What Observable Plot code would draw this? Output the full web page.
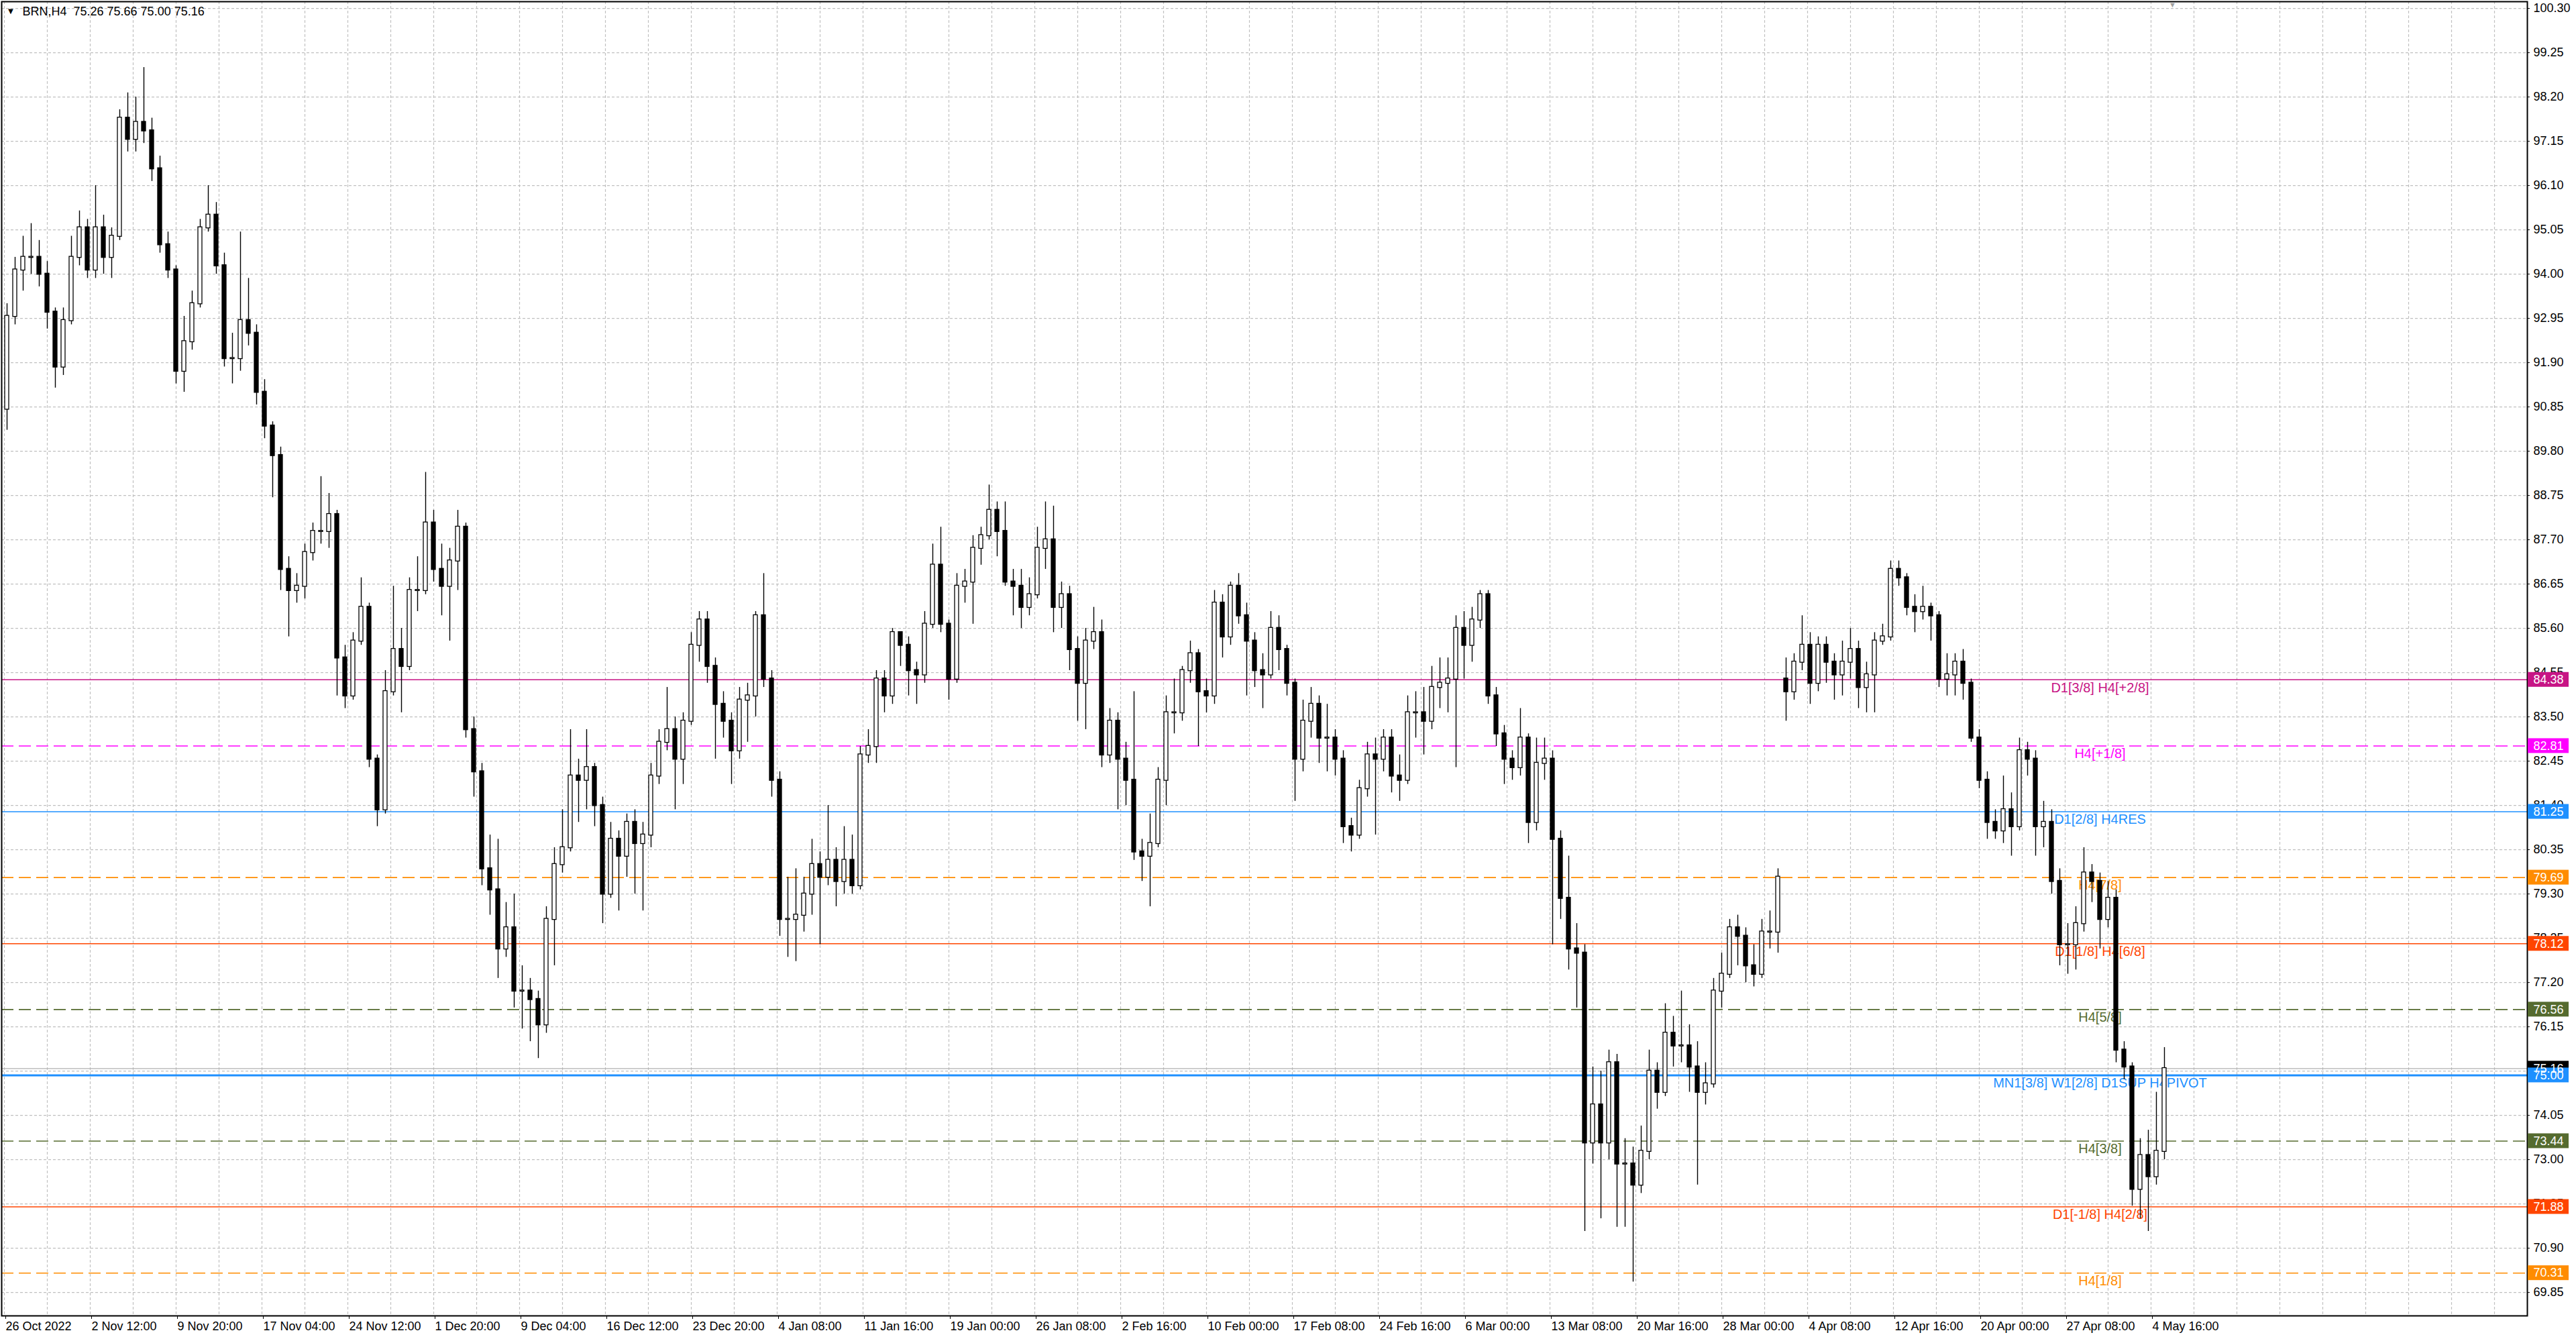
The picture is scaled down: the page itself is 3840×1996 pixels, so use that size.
<!DOCTYPE html>
<html>
<head>
<meta charset="utf-8">
<script src="https://cdn.jsdelivr.net/npm/d3@7"></script>
<script src="https://cdn.jsdelivr.net/npm/@observablehq/plot@0.6"></script>
<style>
  body { margin: 0; background: #fff; overflow: hidden; }
  #chart { width: 3840px; height: 1996px; }
</style>
</head>
<body>
<div id="chart"></div>
<script>
// BRN H4 candles, grouped 3 bars per candle (bar index = 3*i + 1)
const firstOpen = 90.8
const gapAt = [221]        // weekend gap (OPEC cut)
const gapOpen = [84.4]

const closes = [
  93.0, 94.1, 94.4, 94.4, 94.0, 93.1, 91.8, 92.9, 94.4, 95.1,
  94.1, 95.1, 94.4, 94.9, 97.7, 97.2, 97.6, 97.4, 96.5, 94.7,
  94.1, 91.7, 92.4, 93.3, 95.1, 95.4, 94.2, 92.0, 92.0, 92.9,
  92.6, 91.2, 90.4, 89.7, 87.0, 86.5, 86.6, 87.4, 87.9, 87.9,
  88.3, 84.9, 84.0, 85.3, 86.1, 82.5, 81.3, 84.1, 85.1, 84.7,
  86.5, 86.5, 88.1, 87.0, 86.6, 87.2, 88.0, 83.2, 82.2, 79.9,
  79.4, 78.0, 78.5, 77.0, 77.0, 76.8, 76.2, 78.7,
  80.0, 80.4, 82.1, 82.0, 82.3, 81.4, 79.3, 80.6, 80.2, 81.0,
  80.5, 80.7, 82.1, 82.9, 83.2, 82.5, 83.4, 85.2, 85.8, 84.7,
  83.8, 83.4, 82.7, 83.9, 84.0, 85.9, 84.4, 82.0, 78.7, 78.7,
  78.8, 79.3, 80.0, 79.7, 80.1, 79.6, 80.1, 79.5, 82.6, 82.8,
  84.4, 84.0, 85.5, 85.2, 84.6, 84.5, 85.7, 87.1, 85.7, 84.4,
  86.6, 86.7, 87.5, 87.8, 88.4, 87.9, 86.7, 86.6, 86.1, 86.4,
  87.5, 87.7, 86.1, 86.4, 85.1, 84.3,
  85.3, 85.5, 82.6, 83.4, 82.5, 82.0, 80.3, 80.2, 80.5, 82.0,
  83.6, 83.6, 84.6, 85.0, 84.1, 84.0, 86.2, 85.4, 86.6, 85.9,
  85.3, 84.6, 84.5, 85.6, 85.1, 84.3, 82.5, 83.4, 83.8, 83.0,
  83.0, 82.5, 80.9, 80.7, 81.8, 82.6, 82.5, 83.0, 82.1, 82.0,
  83.6, 83.6, 83.4, 84.2, 84.3, 84.4, 85.6, 85.2, 85.8, 86.4,
  84.0, 83.1, 82.5, 82.3, 83.0, 81.0, 82.4, 82.5, 80.6, 79.2,
  78.0, 77.9, 73.4, 74.3, 73.4, 75.3, 72.9,
  72.9, 72.4, 73.2, 75.1, 74.6, 76.0, 75.7, 75.7, 75.2, 74.6,
  74.8, 77.0, 77.4, 78.5, 78.3, 77.6, 77.4, 78.4, 78.4, 79.7,
  84.1, 84.8, 85.2, 84.3, 85.2, 84.8, 84.5, 84.8, 85.1, 84.2,
  84.5, 85.3, 85.4, 87.0, 86.8, 86.1, 86.0, 86.1, 85.9, 84.4,
  84.5, 84.8, 84.3, 83.0, 82.0, 81.0, 80.8, 81.3, 80.9, 82.7,
  82.5, 80.9, 81.0, 79.6, 78.1, 78.1, 78.6, 79.8, 79.6, 78.7,
  79.2, 75.6, 75.2, 72.3, 73.1, 72.6, 73.2, 75.16
]

const highs = [
  93.3, 94.4, 94.9, 95.2, 94.8, 94.3, 93.2, 93.2, 94.9, 95.5,
  95.3, 96.1, 95.4, 95.1, 97.9, 98.3, 98.2, 98.9, 97.7, 96.8,
  95.0, 94.2, 93.0, 93.6, 95.3, 96.1, 95.7, 94.5, 92.6, 95.0,
  93.9, 92.8, 91.5, 90.5, 89.9, 87.3, 86.9, 87.6, 88.1, 89.2,
  88.8, 88.4, 85.2, 85.5, 86.8, 86.2, 82.6, 84.6, 86.6, 85.6,
  86.8, 87.3, 89.3, 88.4, 87.6, 87.5, 88.4, 88.1, 83.5, 82.4,
  80.7, 80.6, 79.1, 79.3, 77.6, 77.3, 77.0, 79.0,
  80.4, 81.3, 83.2, 82.5, 83.2, 82.4, 81.6, 81.0, 80.8, 81.2,
  81.3, 81.0, 82.4, 83.2, 84.2, 83.5, 83.6, 85.5, 86.0, 86.0,
  84.9, 84.1, 83.6, 84.2, 84.3, 86.0, 86.9, 84.6, 82.2, 79.7,
  79.9, 79.7, 80.6, 80.3, 81.4, 80.4, 80.9, 80.7, 82.8, 83.2,
  84.6, 84.6, 85.6, 85.5, 85.4, 84.8, 86.0, 87.6, 88.0, 85.8,
  86.9, 87.0, 87.8, 88.0, 89.0, 88.6, 88.6, 87.0, 87.0, 86.8,
  88.0, 88.6, 88.5, 86.7, 86.6, 85.4,
  85.6, 86.1, 85.8, 83.7, 83.6, 82.9, 84.1, 80.6, 81.2, 82.3,
  84.0, 84.4, 84.7, 85.3, 85.1, 84.4, 86.5, 86.4, 86.7, 86.9,
  86.2, 85.5, 85.0, 86.0, 85.9, 85.2, 84.4, 83.9, 84.2, 84.0,
  83.8, 83.2, 82.7, 81.1, 82.0, 82.9, 83.0, 83.2, 83.2, 82.6,
  84.0, 84.1, 84.2, 84.7, 84.9, 84.9, 85.9, 86.0, 86.1, 86.5,
  86.5, 84.2, 83.3, 82.7, 83.7, 83.1, 83.0, 83.0, 82.7, 80.8,
  80.2, 78.6, 78.1, 75.2, 75.1, 75.6, 75.5,
  73.5, 73.3, 73.8, 75.6, 75.3, 76.7, 76.4, 77.0, 76.2, 75.8,
  75.3, 77.3, 77.9, 78.7, 78.8, 78.5, 78.1, 78.7, 78.9, 79.9,
  84.9, 85.0, 85.9, 85.5, 85.4, 85.4, 85.0, 85.3, 85.6, 85.3,
  84.8, 85.5, 85.7, 87.2, 87.2, 86.9, 86.4, 86.6, 86.2, 86.0,
  85.0, 85.0, 85.1, 84.4, 83.2, 82.2, 81.3, 82.1, 81.7, 83.0,
  82.9, 82.7, 81.5, 81.3, 79.9, 78.6, 79.0, 80.4, 80.0, 79.8,
  79.6, 79.4, 75.8, 75.3, 73.5, 73.7, 74.6, 75.66
]

const lows = [
  90.3, 92.8, 93.6, 94.0, 93.7, 92.7, 91.3, 91.6, 92.8, 94.2,
  93.9, 93.9, 94.0, 93.9, 94.8, 96.9, 96.9, 97.1, 96.2, 94.5,
  93.9, 91.4, 91.2, 92.2, 93.2, 95.0, 94.0, 91.8, 91.4, 91.7,
  92.3, 90.9, 90.1, 88.7, 86.5, 85.4, 86.2, 86.3, 87.2, 87.6,
  87.5, 84.0, 83.7, 83.9, 85.2, 82.3, 80.9, 81.2, 84.0, 83.6,
  84.6, 86.0, 86.4, 86.7, 85.9, 85.3, 86.5, 83.0, 81.6, 79.5,
  78.8, 77.3, 77.8, 76.6, 76.1, 75.8, 75.4, 76.0,
  77.6, 79.8, 80.3, 81.0, 81.3, 80.9, 78.6, 79.2, 78.9, 79.7,
  79.3, 78.9, 80.4, 81.9, 82.7, 81.3, 81.9, 83.3, 84.8, 84.3,
  82.5, 83.0, 81.9, 82.5, 82.9, 83.5, 84.2, 81.6, 78.3, 77.8,
  77.7, 78.4, 78.8, 78.1, 79.5, 79.0, 79.3, 79.3, 79.4, 82.4,
  82.4, 83.6, 83.8, 84.7, 84.0, 83.8, 84.3, 85.6, 85.5, 83.9,
  84.3, 86.2, 85.7, 87.1, 87.7, 87.3, 86.6, 85.9, 85.6, 85.9,
  86.3, 87.0, 85.5, 85.6, 84.6, 83.4,
  83.2, 85.1, 82.3, 82.4, 81.3, 81.4, 80.1, 79.6, 79.0, 80.4,
  81.4, 83.1, 83.4, 84.3, 82.8, 83.6, 83.8, 84.9, 85.2, 85.7,
  84.0, 84.2, 83.7, 84.4, 84.6, 84.0, 81.5, 82.2, 83.0, 82.4,
  82.2, 82.1, 80.5, 80.3, 80.6, 81.6, 80.7, 82.2, 81.7, 81.5,
  81.9, 83.0, 82.6, 83.2, 83.7, 83.6, 82.3, 84.4, 84.8, 85.6,
  83.8, 82.8, 81.9, 82.0, 82.1, 80.5, 80.8, 82.0, 78.1, 78.7,
  77.5, 76.6, 71.3, 72.9, 71.6, 73.0, 71.4,
  71.4, 70.1, 72.2, 73.0, 74.2, 74.5, 75.2, 75.3, 74.6, 72.4,
  74.3, 74.7, 76.6, 77.3, 77.6, 77.2, 77.1, 77.3, 78.0, 77.9,
  83.4, 83.9, 84.6, 83.8, 84.1, 84.3, 83.9, 84.0, 84.4, 83.7,
  83.6, 83.6, 85.2, 85.3, 86.6, 85.9, 85.5, 85.8, 85.3, 84.2,
  84.0, 84.0, 83.9, 82.9, 81.8, 80.6, 80.6, 80.5, 80.2, 80.8,
  82.1, 80.2, 80.4, 79.3, 77.6, 77.4, 77.5, 78.4, 79.1, 78.0,
  78.5, 75.3, 74.9, 71.9, 71.6, 71.3, 72.4, 73.0
]

// indicator levels
const levelValues = [84.38, 82.81, 81.25, 79.69, 78.12, 76.56, 75.00, 73.44, 71.88, 70.31]
const levelNames = ["D1[3/8] H4[+2/8]", "H4[+1/8]", "D1[2/8] H4RES", "H4[7/8]", "D1[1/8] H4[6/8]",
  "H4[5/8]", "MN1[3/8] W1[2/8] D1SUP H4PIVOT", "H4[3/8]", "D1[-1/8] H4[2/8]", "H4[1/8]"]
const levelColors = ["#C71585", "#FF00FF", "#1E90FF", "#FF8C00", "#FF4500",
  "#556B2F", "#1E90FF", "#556B2F", "#FF4500", "#FF8C00"]
const levelStyle = ["solid", "dash", "solid", "dash", "solid", "dash", "thick", "dash", "solid", "dash"]

const bidPrice = 75.16
const header = "BRN,H4\u00a0\u00a075.26 75.66 75.00 75.16"

const priceTicks = [69.85, 70.90, 71.95, 73.00, 74.05, 75.10, 76.15, 77.20, 78.25, 79.30,
  80.35, 81.40, 82.45, 83.50, 84.55, 85.60, 86.65, 87.70, 88.75, 89.80,
  90.85, 91.90, 92.95, 94.00, 95.05, 96.10, 97.15, 98.20, 99.25, 100.30]

const timeLabels = ["26 Oct 2022", "2 Nov 12:00", "9 Nov 20:00", "17 Nov 04:00", "24 Nov 12:00",
  "1 Dec 20:00", "9 Dec 04:00", "16 Dec 12:00", "23 Dec 20:00", "4 Jan 08:00", "11 Jan 16:00",
  "19 Jan 00:00", "26 Jan 08:00", "2 Feb 16:00", "10 Feb 00:00", "17 Feb 08:00", "24 Feb 16:00",
  "6 Mar 00:00", "13 Mar 08:00", "20 Mar 16:00", "28 Mar 00:00", "4 Apr 08:00", "12 Apr 16:00",
  "20 Apr 00:00", "27 Apr 08:00", "4 May 16:00"]

// build tables
const candles = closes.map((c, i) => {
  const g = gapAt.indexOf(i)
  const open = i === 0 ? firstOpen : g >= 0 ? gapOpen[g] : closes[i - 1]
  return {bar: 3 * i + 1, open, close: c, high: highs[i], low: lows[i]}
})
const levels = levelValues.map((v, i) => ({value: v, name: levelNames[i], color: levelColors[i], style: levelStyle[i]}))
const boxes = [{value: bidPrice, color: "#000000"}, ...levels]
const timeTicks = timeLabels.map((t, i) => ({bar: 32 * i, label: t}))
const labelOf = new Map(timeTicks.map(d => [d.bar, d.label]))

const grid = "#c0c0c0"

const chart = Plot.plot({
  width: 3840,
  height: 1996,
  marginLeft: 2,
  marginRight: 73,
  marginTop: 2,
  marginBottom: 35,
  style: {fontFamily: "'Liberation Sans', Arial, sans-serif", fontSize: "18px", background: "#fff", color: "#000"},
  x: {type: "linear", domain: [-1, 940.25]},
  y: {domain: [69.295, 100.46]},
  marks: [
    // dashed grid
    Plot.ruleY(priceTicks, {stroke: grid, strokeDasharray: "4,3", strokeWidth: 1.2}),
    Plot.ruleX(d3.range(0, 940, 16), {stroke: grid, strokeDasharray: "4,3", strokeWidth: 1.2}),
    // bid line
    Plot.ruleY([bidPrice], {stroke: "#b0b0b0", strokeWidth: 1.2}),
    // indicator levels
    Plot.ruleY(levels.filter(d => d.style === "solid"), {y: "value", stroke: "color", strokeWidth: 1.6}),
    Plot.ruleY(levels.filter(d => d.style === "dash"), {y: "value", stroke: "color", strokeWidth: 1.6, strokeDasharray: "18,8"}),
    Plot.ruleY(levels.filter(d => d.style === "thick"), {y: "value", stroke: "color", strokeWidth: 3}),
    Plot.text(levels, {x: () => 781, y: "value", text: "name", fill: "color", dy: 12, fontSize: 20, textAnchor: "middle"}),
    // candles
    Plot.ruleX(candles, {x: "bar", y1: "low", y2: "high", stroke: "#000", strokeWidth: 1.4}),
    Plot.rect(candles, {
      x1: d => d.bar - 0.75, x2: d => d.bar + 0.75, y1: "open", y2: "close",
      fill: d => d.close >= d.open ? "#ffffff" : "#000000",
      stroke: "#000", strokeWidth: 1.3, insetTop: -0.8, insetBottom: -0.8
    }),
    Plot.frame({stroke: "#000", strokeWidth: 2}),
    // axes
    Plot.axisY(priceTicks, {anchor: "right", label: null, tickSize: 3, tickPadding: 6, tickFormat: d => d.toFixed(2), fontSize: 18}),
    Plot.axisX(timeTicks.map(d => d.bar), {anchor: "bottom", label: null, tickSize: 5, tickPadding: 4, tickFormat: d => labelOf.get(d), textAnchor: "start", dx: 2, fontSize: 18}),
    // price boxes on the right scale
    Plot.rect(boxes, {x1: () => 940.5, x2: () => 955.75, y1: "value", y2: "value", fill: "color", insetTop: -11, insetBottom: -11}),
    Plot.text(boxes, {x: () => 942.5, y: "value", text: d => d.value.toFixed(2), fill: "#fff", textAnchor: "start", fontSize: 18}),
    // header + chart shift marker
    Plot.text(["\u25bc"], {frameAnchor: "top-left", dx: 7, dy: 9, fontSize: 13, textAnchor: "start", lineAnchor: "top"}),
    Plot.text([header], {frameAnchor: "top-left", dx: 31, dy: 8, fontSize: 18, textAnchor: "start", lineAnchor: "top"}),
    Plot.text(["\u25bc"], {x: () => 808, frameAnchor: "top", dy: 1, fontSize: 11, fill: "#a0a0a0", lineAnchor: "top"})
  ]
})

d3.select('#chart').append(() => chart)
</script>
</body>
</html>
